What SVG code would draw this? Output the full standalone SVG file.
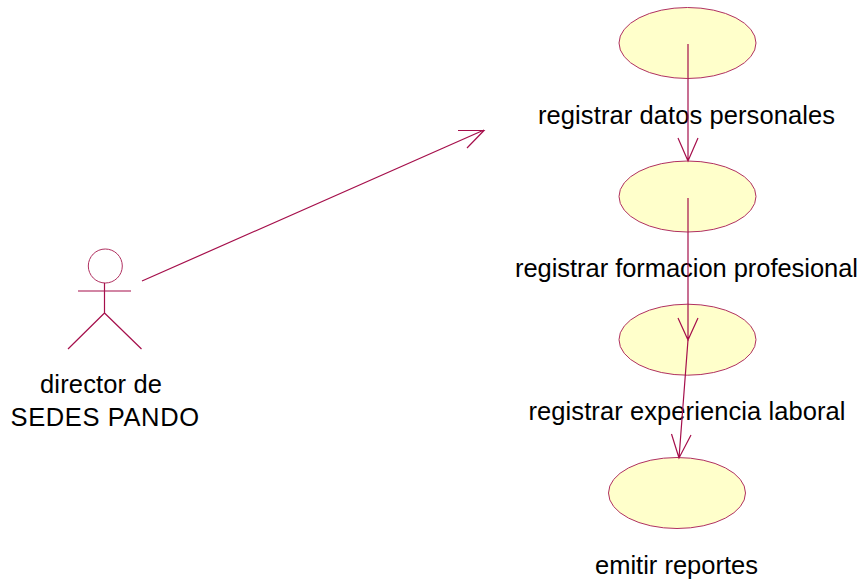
<svg xmlns="http://www.w3.org/2000/svg" width="863" height="581" viewBox="0 0 863 581">
<style>
.uc{fill:#ffffcb;stroke:#b03060;stroke-width:1}
.ln{fill:none;stroke:#a50f4b;stroke-width:1.2}
text{font-family:"Liberation Sans",Arial,sans-serif;font-size:25.500px;fill:#000}
</style>
<rect width="863" height="581" fill="#fff"/>
<g id="actor-director">
<circle cx="105.300" cy="266" r="17" fill="#fff" stroke="#b03060"/>
<path class="ln" d="M104.500 283V313M78 291H131M104.500 313L68 349M104.500 313L141.500 349"/>
<text x="40" y="393" textLength="122">director de</text>
<text x="10.500" y="426" textLength="188.500">SEDES PANDO</text>
</g>
<g id="uc-datos">
<ellipse class="uc" cx="687.500" cy="43" rx="68.500" ry="35.500"/>
<text x="538" y="124" textLength="297">registrar datos personales</text>
</g>
<g id="uc-formacion">
<ellipse class="uc" cx="687.500" cy="196.500" rx="68.500" ry="35.500"/>
<text x="515" y="277" textLength="343">registrar formacion profesional</text>
</g>
<g id="uc-experiencia">
<ellipse class="uc" cx="687.500" cy="339.700" rx="68.500" ry="35.500"/>
<text x="528.500" y="420" textLength="317">registrar experiencia laboral</text>
</g>
<g id="uc-reportes">
<ellipse class="uc" cx="677" cy="493" rx="68.500" ry="35.500"/>
<text x="595" y="574" textLength="163">emitir reportes</text>
</g>
<g id="connectors">
<path class="ln" d="M142 281L484 130M458 130.500H484L467 148"/>
<path class="ln" d="M688 44V161M678 138L688 161L698 138"/>
<path class="ln" d="M688 198V340M678 318L688 340L698 318"/>
<path class="ln" d="M688 340L679 458M671.500 434L679 458L691 435"/>
</g>
</svg>
